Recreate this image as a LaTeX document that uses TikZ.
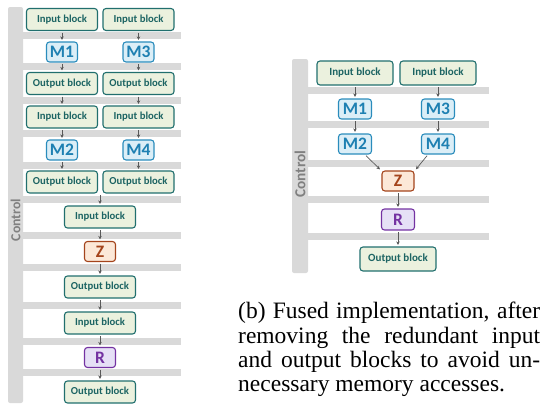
\documentclass[tikz,border=0pt]{standalone}
\usepackage{fontspec}
\setmainfont{Liberation Serif}
\newfontfamily\calib{Carlito}
\usetikzlibrary{arrows.meta}
\definecolor{barg}{HTML}{D9D9D9}
\definecolor{ctrlg}{HTML}{808080}
\definecolor{arrg}{HTML}{595959}
\definecolor{tealb}{HTML}{216F6E}
\definecolor{tealt}{HTML}{1C6463}
\definecolor{blkfill}{HTML}{EBF1DE}
\definecolor{mblue}{HTML}{2A8CBC}
\definecolor{mtxt}{HTML}{1E80B2}
\definecolor{mfill}{HTML}{DBEEF7}
\definecolor{zbrown}{HTML}{A4441C}
\definecolor{zfill}{HTML}{FCE8D8}
\definecolor{rpurp}{HTML}{7432A2}
\definecolor{rfill}{HTML}{E6E0F6}
\begin{document}
\begin{tikzpicture}[x=1pt,y=-1pt,
  blk/.style={draw=tealb,fill=blkfill,text=tealt,line width=1.1pt,rounded corners=3pt,inner sep=0pt,
    minimum width=71pt,minimum height=22pt,font=\calib\bfseries\fontsize{10.7}{12}\selectfont},
  bigblk/.style={blk,minimum width=76pt,minimum height=24pt,font=\calib\bfseries\fontsize{11}{12}\selectfont},
  mblk/.style={draw=mblue,fill=mfill,text=mtxt,line width=1.1pt,rounded corners=3pt,inner sep=0pt,
    minimum width=31pt,minimum height=20pt,font=\calib\bfseries\fontsize{17.5}{18}\selectfont},
  zblk/.style={mblk,draw=zbrown,fill=zfill,text=zbrown},
  rblk/.style={mblk,draw=rpurp,fill=rfill,text=rpurp},
  ctrl/.style={rotate=90,text=ctrlg,font=\calib\bfseries\fontsize{13.8}{15}\selectfont},
  arr/.style={-{Stealth[length=3.6pt,width=3.6pt]},draw=arrg,line width=0.7pt,shorten <=1.5pt,shorten >=1.5pt}]
  \useasboundingbox (0,0) rectangle (542,405);
  % (a) left: control bar and stages
  \fill[barg,rounded corners=2pt] (8,7) rectangle (23,403);
  \foreach \y in {35.5,66.5,100,133.5,165,199.5,235,267,305,341.5,372.5}
    \fill[barg] (23,\y-3.5) rectangle (181,\y+3.5);
  \node[ctrl] (ctla) at (15.5,220) {Control};
  \node[blk] (in1) at (62,19.5) {Input block};
  \node[blk] (in3) at (138.5,19.5) {Input block};
  \node[mblk] (m1) at (62,52) {M1};
  \node[mblk] (m3) at (138.5,52) {M3};
  \node[blk] (out1) at (62,83.5) {Output block};
  \node[blk] (out3) at (138.5,83.5) {Output block};
  \node[blk] (in2) at (62,117) {Input block};
  \node[blk] (in4) at (138.5,117) {Input block};
  \node[mblk] (m2) at (62,150) {M2};
  \node[mblk] (m4) at (138.5,150) {M4};
  \node[blk] (out2) at (62,182) {Output block};
  \node[blk] (out4) at (138.5,182) {Output block};
  \coordinate (jn) at (100,193.5);
  \node[blk] (in5) at (100,217) {Input block};
  \node[zblk] (z) at (100,251.5) {Z};
  \node[blk] (out5) at (100,287) {Output block};
  \node[blk] (in6) at (100,323) {Input block};
  \node[rblk] (r) at (100,357.5) {R};
  \node[blk] (out6) at (100,392) {Output block};
  \draw[arr] (in1) -- (m1); \draw[arr] (m1) -- (out1); \draw[arr] (out1) -- (in2);
  \draw[arr] (in2) -- (m2); \draw[arr] (m2) -- (out2);
  \draw[arr] (in3) -- (m3); \draw[arr] (m3) -- (out3); \draw[arr] (out3) -- (in4);
  \draw[arr] (in4) -- (m4); \draw[arr] (m4) -- (out4);
  \draw[arr] (jn) -- (in5); \draw[arr] (in5) -- (z); \draw[arr] (z) -- (out5);
  \draw[arr] (out5) -- (in6); \draw[arr] (in6) -- (r); \draw[arr] (r) -- (out6);
  % (b) right: fused version
  \fill[barg,rounded corners=2pt] (292,59) rectangle (308,273);
  \foreach \y in {90.5,124.5,163,199.5,236.5}
    \fill[barg] (308,\y-3.5) rectangle (489,\y+3.5);
  \node[ctrl,font=\calib\bfseries\fontsize{15.3}{17}\selectfont] (ctlb) at (300,174) {Control};
  \node[bigblk] (ina) at (355,73) {Input block};
  \node[bigblk] (inb) at (438,73) {Input block};
  \node[mblk,minimum width=33pt] (ma) at (355,109) {M1};
  \node[mblk,minimum width=33pt] (mb) at (438,109) {M3};
  \node[mblk,minimum width=33pt] (mc) at (355,144) {M2};
  \node[mblk,minimum width=33pt] (md) at (438,144) {M4};
  \node[zblk,minimum width=32pt] (zf) at (398,181) {Z};
  \node[rblk,minimum width=33pt,minimum height=21pt] (rf) at (398,219.5) {R};
  \node[bigblk] (outf) at (398,259) {Output block};
  \draw[arr] (ina) -- (ma); \draw[arr] (ma) -- (mc);
  \draw[arr] (inb) -- (mb); \draw[arr] (mb) -- (md);
  \draw[arr] ([xshift=10pt]mc.south) -- ([xshift=-17pt]zf.north);
  \draw[arr] ([xshift=-10pt]md.south) -- ([xshift=17pt]zf.north);
  \draw[arr] (zf) -- (rf); \draw[arr] (rf) -- (outf);
  % caption
  \node[anchor=north west,inner sep=0pt,text width=302pt,align=justify,
    font=\fontsize{23.5}{24.4}\selectfont] (cap) at (238,302)
    {(b) Fused implementation, after\linebreak removing the redundant input\linebreak and output blocks to avoid un-\linebreak necessary memory accesses.};
\end{tikzpicture}
\end{document}
